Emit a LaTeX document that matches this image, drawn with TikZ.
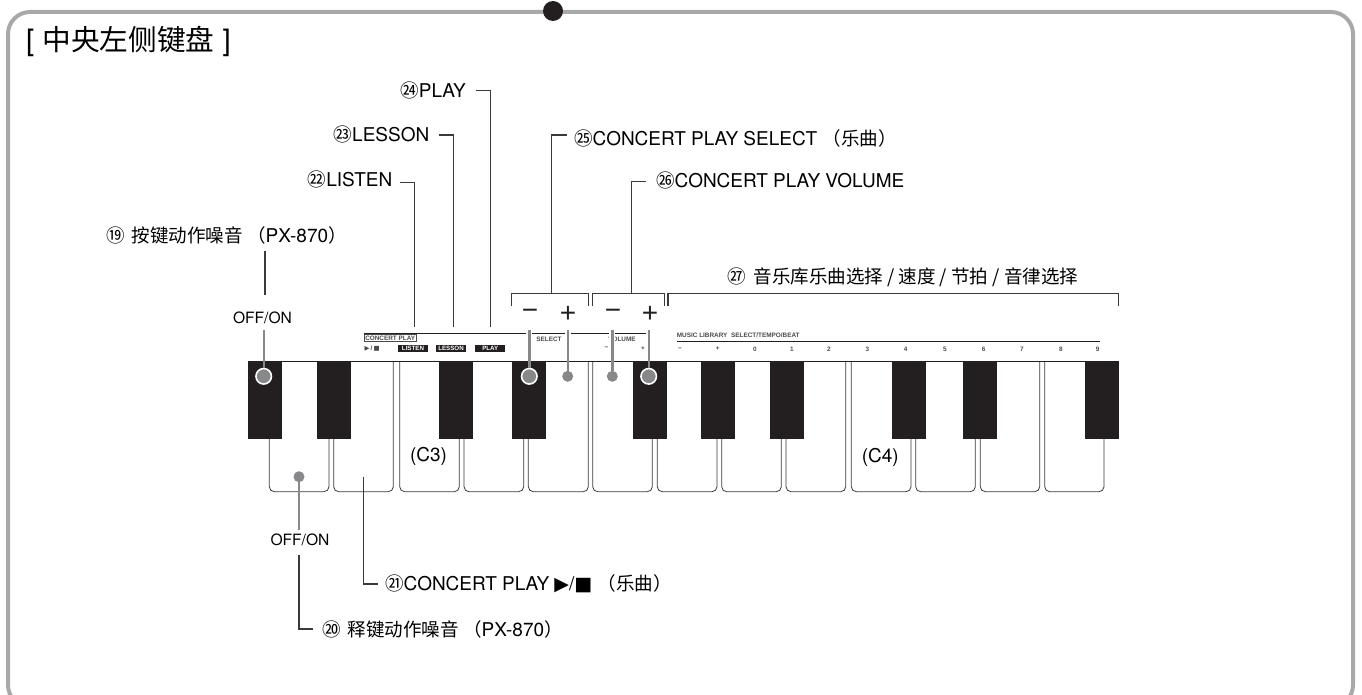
\documentclass[tikz,border=0pt]{standalone}
\usepackage{fontspec}
\setmainfont{TeX Gyre Heros}
\newfontfamily\cjk[Scale=0.975]{Noto Sans CJK SC}
\newfontfamily\panelf{Liberation Sans}
\newfontfamily\symf{DejaVu Sans}
\usetikzlibrary{arrows.meta,positioning,calc}
\definecolor{cframe}{HTML}{A8A9AB}
\definecolor{cblack}{HTML}{231F20}
\definecolor{cline}{HTML}{3A3A3A}
\definecolor{cdot}{HTML}{87888A}
\definecolor{cpanel}{HTML}{4A4A4A}
\tikzset{
  fbox/.style={draw=cframe, line width=4pt, rounded corners=22pt},
  wkey/.style={draw=cline, line width=0.8pt, rounded corners=5pt},
  bkey/.style={fill=cblack},
  lbl/.style={inner sep=0pt, font=\fontsize{19}{21}\selectfont, text=black},
  big/.style={lbl, font=\fontsize{29.4}{32}\selectfont},
  note/.style={lbl, font=\fontsize{15.6}{18}\selectfont},
  pmark/.style={inner sep=0pt, font=\panelf\fontsize{28}{28}\selectfont, text=cblack},
  ptxt/.style={inner sep=0pt, font=\panelf\bfseries\fontsize{6.4}{7}\selectfont, text=cpanel},
  ptag/.style={inner sep=0pt, fill=cblack, text=white, minimum width=30pt, minimum height=7.6pt,
               font=\panelf\bfseries\fontsize{6.2}{7}\selectfont},
  leader/.style={draw=cline, line width=1.2pt},
  halo/.style={draw=white, line width=6pt},
  glead/.style={draw=cdot, line width=2.4pt},
  gdot/.style={circle, fill=cdot, inner sep=0pt, minimum size=11pt},
  rdot/.style={circle, fill=cdot, draw=white, line width=1.6pt, inner sep=0pt, minimum size=15.5pt},
}
\begin{document}
\begin{tikzpicture}[x=1pt, y=-1pt]
  \useasboundingbox (0,0) rectangle (1362,695);
  \draw[fbox] (8,12) rectangle (1353,707);
  \node[circle, fill=cblack, inner sep=0pt, minimum size=20pt] (pin) at (553,11) {};
  \node[big, anchor=west] (title) at (26,41.5) {[ {\cjk 中央左侧键盘} ]};
  % white keys
  \foreach \kl/\kr/\tl/\tr in {269.3/329/439/439, 333.7/393.3/439/361, 399.7/459.3/361/439,
      464/523.7/439/439, 528.3/588.3/439/361, 592.7/652.3/361/439, 657.3/717/439/439,
      721.7/781.3/439/439, 786/845.7/439/361, 851.3/911/361/439, 915.7/975.3/439/439,
      980.3/1039.7/439/361, 1044.7/1104/361/439}
    \draw[wkey] (\kl,\tl) -- (\kl,491.7) -- (\kr,491.7) -- (\kr,\tr);
  \draw[draw=cblack, line width=1pt] (248.3,361.3) -- (1118.3,361.3);
  % black keys
  \foreach \kl in {248.3,316.7,439,511.7,633,701,770.3,891.7,963.3,1084.7}
    \fill[bkey] (\kl,361) rectangle ++(34,78.3);
  \node[lbl] (cthree) at (428.5,456.5) {(C3)};
  \node[lbl] (cfour) at (880.3,457) {(C4)};
  % panel print
  \draw[draw=cblack, line width=0.8pt] (364.3,333.5) -- (650,333.5);
  \draw[draw=cpanel, line width=0.6pt, fill=white] (364.3,334) rectangle (416,341.3);
  \node[ptxt] (pconcert) at (390.2,337.8) {CONCERT PLAY};
  \node[ptxt, anchor=west] (pstop) at (364.5,349) {{\symf ▶}\,/\,{\symf ■}};
  \node[ptag] (plisten) at (413,348.5) {LISTEN};
  \node[ptag] (plesson) at (451,348.5) {LESSON};
  \node[ptag] (pplay) at (490.3,348.5) {PLAY};
  \node[ptxt] (pselect) at (549,339.5) {SELECT};
  \node[ptxt] (pvolume) at (622,339.5) {VOLUME};
  \node[ptxt] (pvminus) at (606.5,348.5) {−};
  \node[ptxt] (pvplus) at (643,348.5) {+};
  \draw[draw=cblack, line width=0.8pt] (676.7,341.3) -- (1100,341.3);
  \node[ptxt, anchor=west] (pmusic) at (676.7,335.5) {MUSIC LIBRARY\ \ SELECT/TEMPO/BEAT};
  \foreach \px/\pt in {680/−,717.7/+,755/0,792/1,829/2,867.3/3,905.7/4,945/5,983.7/6,1022/7,1061/8,1097.7/9}
    \node[ptxt] (pk\pt) at (\px,349) {\pt};
  % big minus and plus
  \node[pmark] (selminus) at (530,314) {−};
  \node[pmark] (selplus) at (568,314) {+};
  \node[pmark] (volminus) at (613,314) {−};
  \node[pmark] (volplus) at (650,314) {+};
  % brackets
  \coordinate (selbr) at (551.8,293.3);
  \coordinate (volbr) at (631.8,293.3);
  \draw[leader] (511.7,306) |- (588.3,293.3) -- (588.3,306);
  \draw[leader] (592.3,306) |- (664.7,293.3) -- (664.7,306);
  \draw[leader] (668,306) |- (1118.3,293.3) -- (1118.3,306);
  % dots on the keys
  \node[rdot] (dotoffa) at (263.7,376.3) {};
  \node[gdot] (dotoffb) at (299,476.7) {};
  \node[rdot] (dotsm) at (529.3,376.3) {};
  \node[gdot] (dotsp) at (567.7,376.3) {};
  \node[gdot] (dotvm) at (612.3,376.3) {};
  \node[rdot] (dotvp) at (648.7,376.3) {};
  \node[note] (offa) at (262.5,318) {OFF/ON};
  \node[note] (offb) at (300,539.5) {OFF/ON};
  % grey lines
  \foreach \dn in {dotsm,dotsp,dotvm,dotvp} {
    \draw[halo] (\dn |- 0,329.5) -- (\dn |- 0,358);
    \draw[glead] (\dn) -- (\dn |- 0,329.5);
  }
  \draw[glead] (dotoffa) -- (dotoffa |- 0,330);
  \draw[glead] (dotoffb) -- (dotoffb |- 0,530);
  % labels
  \node[lbl, anchor=west] (nnineteen) at (106,235.7) {{\cjk ⑲\hspace{3pt} 按键动作噪音 （}PX-870{\cjk ）}};
  \node[lbl, anchor=west] (ntwenty) at (322,629) {{\cjk ⑳\hspace{3pt} 释键动作噪音 （}PX-870{\cjk ）}};
  \node[lbl, anchor=west] (nconcert) at (385,584) {{\cjk ㉑}CONCERT PLAY {\symf ▶}/{\symf ■} {\cjk （乐曲）}};
  \node[lbl, anchor=east] (nlisten) at (392.5,179) {{\cjk ㉒}LISTEN};
  \node[lbl, anchor=east] (nlesson) at (429.5,134) {{\cjk ㉓}LESSON};
  \node[lbl, anchor=east] (nplay) at (466,90.7) {{\cjk ㉔}PLAY};
  \node[lbl, anchor=west] (nselect) at (574,138) {{\cjk ㉕}CONCERT PLAY SELECT {\cjk （乐曲）}};
  \node[lbl, anchor=west] (nvolume) at (656,180) {{\cjk ㉖}CONCERT PLAY VOLUME};
  \node[lbl] (nlibrary) at (903,277) {{\cjk ㉗\hspace{3pt} 音乐库乐曲选择 / 速度 / 节拍 / 音律选择}};
  % leaders
  \coordinate (tiplisten) at (414.3,327);
  \coordinate (tiplesson) at (453.3,327);
  \coordinate (tipplay) at (490.3,327);
  \coordinate (tipkey) at (363.7,476.7);
  \coordinate (tipoff) at (265,295);
  \coordinate (tipnote) at (265,251);
  \draw[leader] ([xshift=7.5pt,yshift=-3.5pt]nlisten.east) -| (tiplisten);
  \draw[leader] ([xshift=9.5pt,yshift=-1pt]nlesson.east) -| (tiplesson);
  \draw[leader] ([xshift=10pt]nplay.east) -| (tipplay);
  \draw[leader] ([xshift=-7.5pt,yshift=3pt]nselect.west) -| (selbr);
  \draw[leader] ([xshift=-10pt,yshift=-1.7pt]nvolume.west) -| (volbr);
  \draw[leader] (tipoff) -- (tipnote);
  \draw[leader] (dotoffb |- 0,555) |- ([xshift=-9pt]ntwenty.west);
  \draw[leader] (tipkey) |- ([xshift=-7pt]nconcert.west);
\end{tikzpicture}
\end{document}
